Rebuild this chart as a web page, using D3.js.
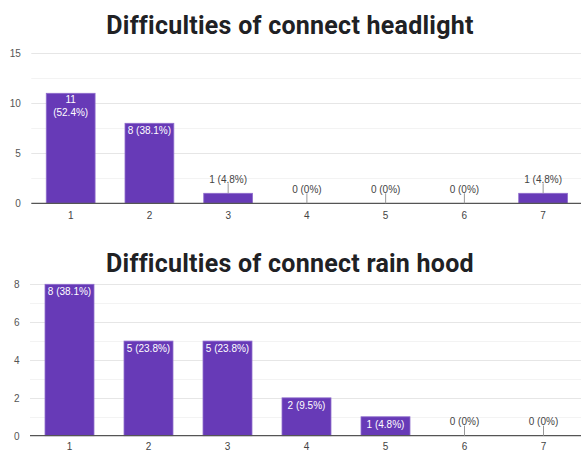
<!DOCTYPE html>
<html>
<head>
<meta charset="utf-8">
<script src="https://cdn.jsdelivr.net/npm/d3@7"></script>
<style>
  html, body { margin: 0; padding: 0; background: #fff; }
  svg { display: block; }
</style>
</head>
<body>
<svg id="chart" width="581" height="451"></svg>
<script>
// Survey answers on a 1–7 scale, 21 respondents
const categories = ["1", "2", "3", "4", "5", "6", "7"];
const headlightCounts = [11, 8, 1, 0, 0, 0, 1];
const rainHoodCounts = [8, 5, 5, 2, 1, 0, 0];
const headlightTicks = [0, 5, 10, 15];
const rainHoodTicks = [0, 2, 4, 6, 8];
const respondents = 21;

const svg = d3.select("#chart");
const barColor = "#673ab7";
const labelFont = "Liberation Sans, Arial, sans-serif";

function pctText(v) {
  return v === 0 ? "0%" : (v / respondents * 100).toFixed(1) + "%";
}

function drawPanel(cfg) {
  const g = svg.append("g");

  // Title
  g.append("text")
    .attr("x", 290)
    .attr("y", cfg.titleY)
    .attr("text-anchor", "middle")
    .attr("font-family", "Roboto, sans-serif")
    .attr("font-weight", 700)
    .attr("font-size", 25)
    .attr("letter-spacing", 0.25)
    .attr("fill", "#202124")
    .text(cfg.title);

  const x = d3.scaleBand()
    .domain(categories)
    .range([cfg.left, cfg.right])
    .paddingInner(0.38)
    .paddingOuter(0.19);

  const y = d3.scaleLinear()
    .domain([0, cfg.max])
    .range([cfg.bottom, cfg.top]);

  // Gridlines: major at labelled ticks, minor halfway between
  const step = cfg.ticks[1] - cfg.ticks[0];
  const minor = d3.range(step / 2, cfg.max, step);
  g.selectAll(".minor").data(minor).join("line")
    .attr("x1", cfg.left).attr("x2", 581)
    .attr("y1", d => Math.round(y(d)) + 0.5).attr("y2", d => Math.round(y(d)) + 0.5)
    .attr("stroke", "#f3f3f3");
  g.selectAll(".major").data(cfg.ticks.filter(t => t > 0)).join("line")
    .attr("x1", cfg.left).attr("x2", 581)
    .attr("y1", d => Math.round(y(d)) + 0.5).attr("y2", d => Math.round(y(d)) + 0.5)
    .attr("stroke", "#e6e6e6");

  // Y axis labels
  const yAxis = d3.axisLeft(y).tickValues(cfg.ticks).tickSize(0).tickPadding(0);
  const ya = g.append("g").attr("transform", `translate(${cfg.left - 10.5},0)`).call(yAxis);
  ya.select(".domain").remove();
  ya.selectAll("text")
    .attr("font-family", labelFont)
    .attr("font-size", 10)
    .attr("fill", "#555")
    .attr("dy", "0.35em");

  // Bars
  const data = categories.map((c, i) => ({ c, v: cfg.values[i] }));
  g.selectAll(".bar").data(data.filter(d => d.v > 0)).join("rect")
    .attr("x", d => x(d.c))
    .attr("y", d => y(d.v))
    .attr("width", x.bandwidth())
    .attr("height", d => y(0) - y(d.v))
    .attr("fill", barColor)
    .attr("stroke", "#8f6dcc")
    .attr("stroke-width", 0.8);

  // Baseline
  g.append("line")
    .attr("x1", cfg.left).attr("x2", 581)
    .attr("y1", y(0)).attr("y2", y(0))
    .attr("stroke", "#555").attr("stroke-width", 1.2);

  // X axis labels
  const xAxis = d3.axisBottom(x).tickSize(0).tickPadding(0);
  const xa = g.append("g").attr("transform", `translate(0,${cfg.xLabelY})`).call(xAxis);
  xa.select(".domain").remove();
  xa.selectAll("text")
    .attr("font-family", labelFont)
    .attr("font-size", 10)
    .attr("fill", "#444")
    .attr("dy", 0);

  // Value labels: inside tall bars, above short bars with a leader line
  data.forEach(d => {
    const cx = x(d.c) + x.bandwidth() / 2;
    const label = `${d.v} (${pctText(d.v)})`;
    const h = y(0) - y(d.v);
    if (h > 15) {
      const t = g.append("text")
        .attr("x", cx)
        .attr("text-anchor", "middle")
        .attr("font-family", labelFont)
        .attr("font-size", 10)
        .attr("fill", "#fff");
      t.attr("y", y(d.v) + 11).text(label);
      if (t.node().getComputedTextLength() > x.bandwidth() - 2) {
        t.text(null).attr("y", y(d.v) + 9.5);
        label.split(" ").forEach((part, k) => {
          t.append("tspan").attr("x", cx).attr("dy", k === 0 ? 0 : 13.4).text(part);
        });
      }
    } else {
      const top = y(d.v);
      g.append("line")
        .attr("x1", cx).attr("x2", cx)
        .attr("y1", top - 10).attr("y2", top)
        .attr("stroke", "#999").attr("stroke-width", 1);
      g.append("text")
        .attr("x", cx)
        .attr("y", top - 10.5)
        .attr("text-anchor", "middle")
        .attr("font-family", labelFont)
        .attr("font-size", 10)
        .attr("fill", "#444")
        .text(label);
    }
  });
}

drawPanel({
  title: "Difficulties of connect headlight",
  titleY: 34,
  values: headlightCounts,
  ticks: headlightTicks,
  max: 15,
  left: 31.3, right: 582.5,
  top: 53.3, bottom: 203.3,
  xLabelY: 218.5
});

drawPanel({
  title: "Difficulties of connect rain hood",
  titleY: 271.5,
  values: rainHoodCounts,
  ticks: rainHoodTicks,
  max: 8,
  left: 30, right: 583,
  top: 284.3, bottom: 435.7,
  xLabelY: 450
});
</script>
</body>
</html>
